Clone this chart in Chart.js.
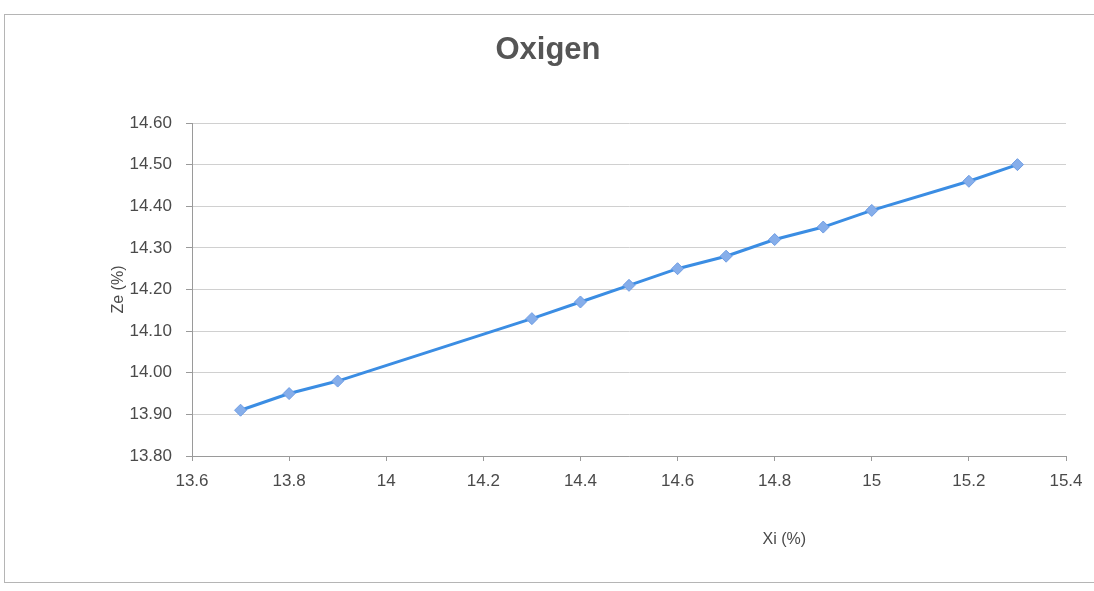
<!DOCTYPE html>
<html>
<head>
<meta charset="utf-8">
<script src="https://cdn.jsdelivr.net/npm/chart.js@4"></script>
<style>
  html, body { margin: 0; padding: 0; background: #fff; }
  #wrap { width: 1094px; height: 591px; }
</style>
</head>
<body>
<div id="wrap"><canvas id="oxigen-chart" width="1094" height="591"></canvas></div>
<script>
const xiValues = [13.7, 13.8, 13.9, 14.3, 14.4, 14.5, 14.6, 14.7, 14.8, 14.9, 15.0, 15.2, 15.3];
const zeValues = [13.91, 13.95, 13.98, 14.13, 14.17, 14.21, 14.25, 14.28, 14.32, 14.35, 14.39, 14.46, 14.50];
const xTicks = [13.6, 13.8, 14.0, 14.2, 14.4, 14.6, 14.8, 15.0, 15.2, 15.4];
const yTicks = [13.8, 13.9, 14.0, 14.1, 14.2, 14.3, 14.4, 14.5, 14.6];

const chartTitle = "Oxigen";
const xTitle = "Xi (%)";
const yTitle = "Ze (%)";

const textColor = "#4a4a4a";
const fontFamily = "Arial, 'Liberation Sans', sans-serif";

// frame, title and the shifted x axis title (Excel lets you drag it)
const decorPlugin = {
  id: "decor",
  beforeDraw(chart) {
    const ctx = chart.ctx;
    ctx.save();
    ctx.fillStyle = "#fff";
    ctx.fillRect(0, 0, chart.width, chart.height);
    ctx.strokeStyle = "#b5b5b5";
    ctx.lineWidth = 1;
    ctx.strokeRect(4.5, 14.5, chart.width, 568);
    ctx.restore();
  },
  afterDraw(chart) {
    const ctx = chart.ctx;
    const area = chart.chartArea;
    ctx.save();
    ctx.fillStyle = "#555";
    ctx.font = "bold 31px " + fontFamily;
    ctx.textAlign = "center";
    ctx.textBaseline = "middle";
    ctx.fillText(chartTitle, 548, 50);
    ctx.fillStyle = textColor;
    ctx.font = "16px " + fontFamily;
    const xs = chart.scales.x;
    ctx.fillText(xTitle, xs.getPixelForValue(14.82), area.bottom + 84);
    ctx.restore();
  }
};

new Chart("oxigen-chart", {
  type: "scatter",
  data: {
    datasets: [
      {
        label: "Oxigen",
        data: xiValues.map((x, i) => ({ x: x, y: zeValues[i] })),
        showLine: true,
        borderColor: "#3b8de3",
        borderWidth: 3,
        backgroundColor: "#86aeea",
        pointBorderColor: "#6f9de4",
        pointBorderWidth: 1,
        pointStyle: "rectRot",
        pointRadius: 6,
        pointHoverRadius: 6,
      },
    ],
  },
  options: {
    responsive: false,
    animation: false,
    layout: {
      padding: { left: 100, right: 28, top: 123, bottom: 85 },
    },
    plugins: {
      legend: { display: false },
      tooltip: { enabled: false },
    },
    scales: {
      x: {
        type: "linear",
        min: 13.6,
        max: 15.4,
        afterBuildTicks: (scale) => {
          scale.ticks = xTicks.map((v) => ({ value: v }));
        },
        afterFit: (scale) => {
          scale.height = 50;
        },
        grid: {
          display: true,
          drawOnChartArea: false,
          drawTicks: true,
          tickLength: 5,
          color: "#9a9a9a",
        },
        border: { display: true, color: "#9a9a9a", width: 1 },
        ticks: {
          color: textColor,
          font: { family: fontFamily, size: 17 },
          padding: 10,
          maxRotation: 0,
          autoSkip: false,
          callback: (v) => String(Math.round(v * 10) / 10),
        },
      },
      y: {
        type: "linear",
        min: 13.8,
        max: 14.6,
        afterBuildTicks: (scale) => {
          scale.ticks = yTicks.map((v) => ({ value: v }));
        },
        afterFit: (scale) => {
          scale.width = 92;
        },
        grid: {
          color: "#d0d0d0",
          lineWidth: 1,
          tickLength: 6,
          tickColor: "#9a9a9a",
        },
        border: { display: true, color: "#9a9a9a", width: 1 },
        ticks: {
          color: textColor,
          font: { family: fontFamily, size: 17 },
          padding: 14,
          autoSkip: false,
          callback: (v) => v.toFixed(2),
        },
        title: {
          display: true,
          text: yTitle,
          color: textColor,
          font: { family: fontFamily, size: 16 },
          padding: { top: 9, bottom: 0 },
        },
      },
    },
  },
  plugins: [decorPlugin],
});
</script>
</body>
</html>
